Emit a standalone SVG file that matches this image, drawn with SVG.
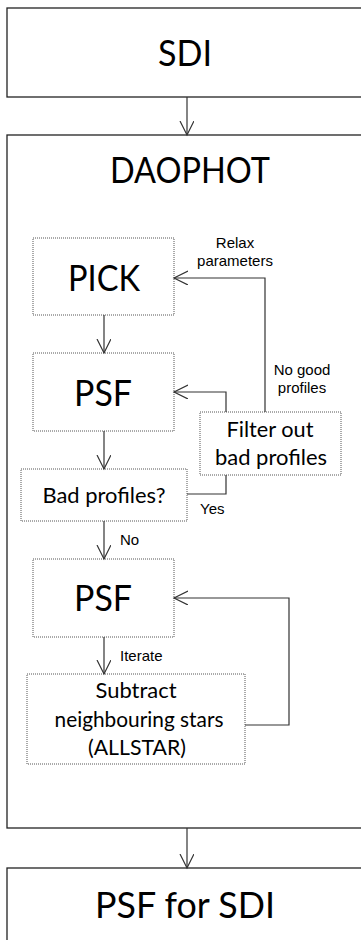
<svg xmlns="http://www.w3.org/2000/svg" width="361" height="940" viewBox="0 0 361 940">
<style>
.box{fill:#fff;stroke:#222;stroke-width:1.3}
.dot{fill:#fff;stroke:#555;stroke-width:1;stroke-dasharray:1 1}
.big{font-family:Lato,"Liberation Sans",sans-serif;font-size:37px;fill:#000;text-anchor:middle}
.mid{font-family:Lato,"Liberation Sans",sans-serif;font-size:22px;fill:#000;text-anchor:middle}
.sm{font-family:"Liberation Sans",Arial,sans-serif;font-size:15px;fill:#000}
.ln{fill:none;stroke:#333;stroke-width:1.2}
</style>
<defs>
<marker id="ah" markerUnits="userSpaceOnUse" markerWidth="16" markerHeight="16" refX="14" refY="7" orient="auto">
<path d="M0,0 L14,7 L0,14" fill="none" stroke="#333" stroke-width="1.2"/>
</marker>
</defs>
<rect width="361" height="940" fill="#fff"/>
<g id="sdi">
<rect class="box" x="7" y="8" width="400" height="89"/>
<text class="big" x="185" y="66" textLength="54" lengthAdjust="spacingAndGlyphs">SDI</text>
</g>
<g id="daophot">
<rect class="box" x="7" y="135" width="400" height="693"/>
<text class="big" x="190" y="183" textLength="160" lengthAdjust="spacingAndGlyphs">DAOPHOT</text>
</g>
<g id="pick">
<rect class="dot" x="33" y="238" width="141" height="77"/>
<text class="big" x="104" y="291" textLength="72" lengthAdjust="spacingAndGlyphs">PICK</text>
</g>
<g id="psf1">
<rect class="dot" x="33" y="353" width="141" height="78"/>
<text class="big" x="103" y="406" textLength="58" lengthAdjust="spacingAndGlyphs">PSF</text>
</g>
<g id="filter">
<rect class="dot" x="200" y="412" width="141" height="63"/>
<text class="mid" x="270" y="437" textLength="87" lengthAdjust="spacingAndGlyphs">Filter out</text>
<text class="mid" x="271" y="465" textLength="112" lengthAdjust="spacingAndGlyphs">bad profiles</text>
</g>
<g id="bad">
<rect class="dot" x="21" y="469" width="166" height="52"/>
<text class="mid" x="104" y="503" textLength="123" lengthAdjust="spacingAndGlyphs">Bad profiles?</text>
</g>
<g id="psf2">
<rect class="dot" x="33" y="559" width="141" height="78"/>
<text class="big" x="103" y="611" textLength="58" lengthAdjust="spacingAndGlyphs">PSF</text>
</g>
<g id="allstar">
<rect class="dot" x="27" y="674" width="218" height="90"/>
<text class="mid" x="136" y="698" textLength="81" lengthAdjust="spacingAndGlyphs">Subtract</text>
<text class="mid" x="139" y="727" textLength="169" lengthAdjust="spacingAndGlyphs">neighbouring stars</text>
<text class="mid" x="137" y="755" textLength="98" lengthAdjust="spacingAndGlyphs">(ALLSTAR)</text>
</g>
<g id="psfsdi">
<rect class="box" x="7" y="868" width="400" height="100"/>
<text class="big" x="185" y="918" textLength="180" lengthAdjust="spacingAndGlyphs">PSF for SDI</text>
</g>
<g id="connectors">
<path class="ln" d="M187,97 V135" marker-end="url(#ah)"/>
<path class="ln" d="M104,315 V353" marker-end="url(#ah)"/>
<path class="ln" d="M265,412 V278 H174" marker-end="url(#ah)"/>
<path class="ln" d="M226,412 V392 H174" marker-end="url(#ah)"/>
<path class="ln" d="M104,431 V469" marker-end="url(#ah)"/>
<path class="ln" d="M187,494 H226 V475"/>
<path class="ln" d="M104,521 V559" marker-end="url(#ah)"/>
<path class="ln" d="M245,725 H289 V598 H174" marker-end="url(#ah)"/>
<path class="ln" d="M104,637 V674" marker-end="url(#ah)"/>
<path class="ln" d="M187,828 V868" marker-end="url(#ah)"/>
<text class="sm" x="235" y="248" text-anchor="middle">Relax</text>
<text class="sm" x="235" y="266" text-anchor="middle">parameters</text>
<text class="sm" x="302" y="375" text-anchor="middle">No good</text>
<text class="sm" x="302" y="393" text-anchor="middle">profiles</text>
<text class="sm" x="200" y="514">Yes</text>
<text class="sm" x="120" y="545">No</text>
<text class="sm" x="120" y="661">Iterate</text>
</g>
</svg>
